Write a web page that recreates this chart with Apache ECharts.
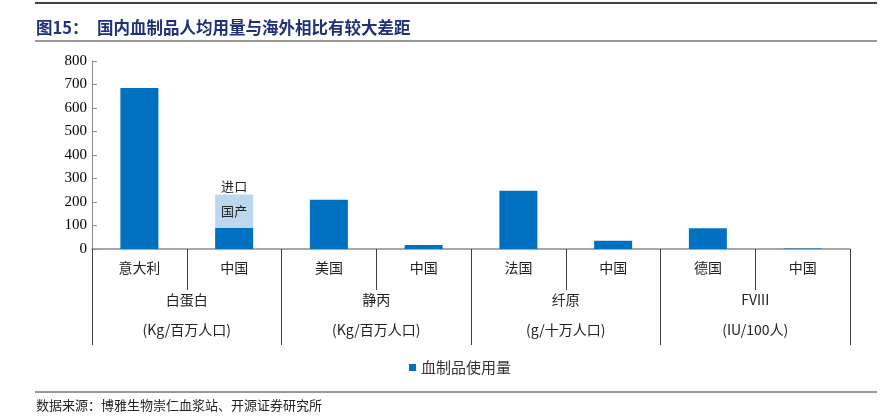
<!DOCTYPE html>
<html><head><meta charset="utf-8">
<script src="https://cdn.jsdelivr.net/npm/echarts@6/dist/echarts.min.js"></script>
<style>html,body{margin:0;padding:0;background:#fff}#c{width:886px;height:416px}</style>
</head><body><div id="c"></div>
<script>
const categories = ['意大利','中国','美国','中国','法国','中国','德国','中国'];
const groups = ['白蛋白','静丙','纤原','FVIII'];
const units = ['(Kg/百万人口)','(Kg/百万人口)','(g/十万人口)','(IU/100人)'];
const usage = [685, 90, 210, 17, 248, 35, 88, 2];
const importPart = ['-', 142, '-', '-', '-', '-', '-', '-'];
const yTicks = {min: 0, max: 800, interval: 100};

const cjk = '"Noto Sans CJK SC", sans-serif';
const chart = echarts.init(document.getElementById('c'));
chart.setOption({
  animation: false,
  grid: {left: 92, right: 36, top: 61, bottom: 167},
  legend: {
    data: ['血制品使用量'], left: 404, top: 355, icon: 'rect', itemWidth: 7, itemHeight: 7, itemGap: 2,
    textStyle: {fontFamily: cjk, fontSize: 15, color: '#333'}
  },
  xAxis: [{
    type: 'category', data: categories, position: 'bottom',
    axisLine: {lineStyle: {color: '#8c8c8c', width: 1.5}},
    axisTick: {show: true, length: 41, interval: 0, lineStyle: {color: '#404040'}},
    axisLabel: {interval: 0, margin: 12, fontFamily: cjk, fontSize: 14, color: '#222'}
  }, {
    type: 'category', data: groups.map((g, i) => g + '\n' + units[i]), position: 'bottom',
    axisLine: {show: false},
    axisTick: {show: true, length: 96, interval: 0, lineStyle: {color: '#404040'}},
    axisLabel: {interval: 0, margin: 36, fontFamily: cjk, fontSize: 14, color: '#222', lineHeight: 30}
  }],
  yAxis: {
    type: 'value', min: yTicks.min, max: yTicks.max, interval: yTicks.interval,
    splitLine: {show: false},
    axisLine: {show: true, lineStyle: {color: '#8c8c8c', width: 1}},
    axisTick: {show: true, inside: true, length: 5, lineStyle: {color: '#8c8c8c'}},
    axisLabel: {margin: 5, fontFamily: '"Liberation Serif", serif', fontSize: 15, color: '#000'}
  },
  series: [{
    name: '血制品使用量', type: 'bar', stack: 'a', data: usage, barWidth: 38,
    itemStyle: {color: '#0070c0'}
  }, {
    name: '进口', type: 'bar', stack: 'a', data: importPart, barWidth: 38,
    itemStyle: {color: '#bdd7ee'},
    label: {show: true, position: 'insideTop', offset: [0, -26], formatter: '进口\n国产',
      lineHeight: 25, fontFamily: cjk, fontSize: 13, color: '#222'}
  }],
  graphic: [
    {type: 'line', shape: {x1: 35, y1: 3, x2: 877, y2: 3}, style: {stroke: '#000', lineWidth: 1.5}},
    {type: 'text', left: 36, top: 19, style: {text: '图15：', font: 'bold 16.5px ' + cjk, fill: '#1f2f7a'}},
    {type: 'text', left: 97, top: 19, style: {text: '国内血制品人均用量与海外相比有较大差距', font: 'bold 16.5px ' + cjk, fill: '#1f2f7a'}},
    {type: 'line', shape: {x1: 35, y1: 41, x2: 877, y2: 41}, style: {stroke: '#999', lineWidth: 2}},
    {type: 'line', shape: {x1: 35, y1: 392, x2: 877, y2: 392}, style: {stroke: '#333', lineWidth: 1}},
    {type: 'text', left: 36, top: 399, style: {text: '数据来源：博雅生物崇仁血浆站、开源证券研究所', font: '13px ' + cjk, fill: '#222'}}
  ]
});
</script></body></html>
